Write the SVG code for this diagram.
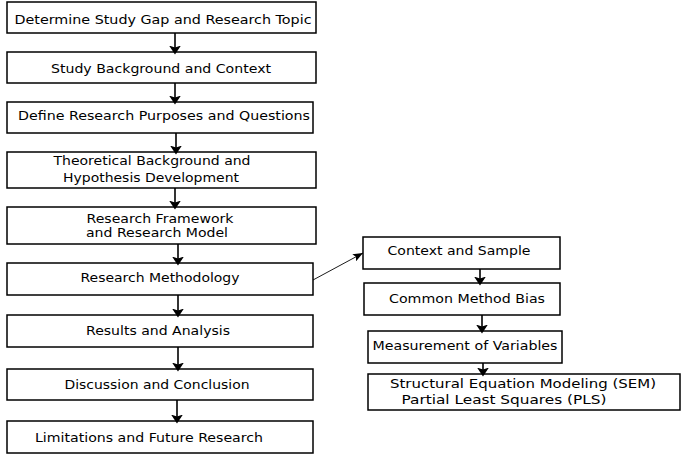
<svg xmlns="http://www.w3.org/2000/svg" width="685" height="456" viewBox="0 0 685 456">
<defs>
<marker id="ah" viewBox="0 0 9 12" refX="7.5" refY="6" markerWidth="9" markerHeight="12" markerUnits="userSpaceOnUse" orient="auto"><path d="M0,0 L9,6 L0,12 L2,6 Z" fill="#000"/></marker>
<marker id="ah2" viewBox="0 0 10 8" refX="10" refY="4" markerWidth="10" markerHeight="8" markerUnits="userSpaceOnUse" orient="auto"><path d="M0,0 L10,4 L0,8 L2,4 Z" fill="#000"/></marker>
</defs>
<style>
rect{fill:#fff;stroke:#000;stroke-width:1.5}
text{font-family:"DejaVu Sans",Verdana,sans-serif;font-size:12px;fill:#000;text-anchor:middle}
.c line{stroke:#000;stroke-width:1.6}
</style>
<rect x="0" y="0" width="685" height="456" style="stroke:none"/>
<g id="n1"><rect x="7" y="2" width="309" height="31"/><text x="163" y="24" textLength="297" lengthAdjust="spacingAndGlyphs">Determine Study Gap and Research Topic</text></g>
<g id="n2"><rect x="7" y="52" width="309" height="31"/><text x="161" y="73" textLength="220" lengthAdjust="spacingAndGlyphs">Study Background and Context</text></g>
<g id="n3"><rect x="7" y="102" width="306" height="31"/><text x="164" y="120" textLength="292" lengthAdjust="spacingAndGlyphs">Define Research Purposes and Questions</text></g>
<g id="n4"><rect x="7" y="152" width="309" height="36"/><text x="152" y="165" textLength="197" lengthAdjust="spacingAndGlyphs">Theoretical Background and</text><text x="151" y="182" textLength="176" lengthAdjust="spacingAndGlyphs">Hypothesis Development</text></g>
<g id="n5"><rect x="7" y="207" width="309" height="37"/><text x="160" y="223" textLength="147" lengthAdjust="spacingAndGlyphs">Research Framework</text><text x="157" y="237" textLength="142" lengthAdjust="spacingAndGlyphs">and Research Model</text></g>
<g id="n6"><rect x="7" y="263" width="306" height="32"/><text x="160" y="282" textLength="159" lengthAdjust="spacingAndGlyphs">Research Methodology</text></g>
<g id="n7"><rect x="7" y="315" width="306" height="32"/><text x="158" y="335" textLength="144" lengthAdjust="spacingAndGlyphs">Results and Analysis</text></g>
<g id="n8"><rect x="7" y="369" width="306" height="31"/><text x="157" y="389" textLength="185" lengthAdjust="spacingAndGlyphs">Discussion and Conclusion</text></g>
<g id="n9"><rect x="7" y="421" width="306" height="32"/><text x="149" y="442" textLength="228" lengthAdjust="spacingAndGlyphs">Limitations and Future Research</text></g>
<g id="r1"><rect x="363" y="237" width="197" height="32"/><text x="459" y="255" textLength="143" lengthAdjust="spacingAndGlyphs">Context and Sample</text></g>
<g id="r2"><rect x="364" y="283" width="196" height="32"/><text x="467" y="303" textLength="156" lengthAdjust="spacingAndGlyphs">Common Method Bias</text></g>
<g id="r3"><rect x="368" y="331" width="194" height="32"/><text x="465" y="350" textLength="185" lengthAdjust="spacingAndGlyphs">Measurement of Variables</text></g>
<g id="r4"><rect x="368" y="374" width="312" height="36"/><text x="523" y="388" textLength="266" lengthAdjust="spacingAndGlyphs">Structural Equation Modeling (SEM)</text><text x="504" y="404" textLength="205" lengthAdjust="spacingAndGlyphs">Partial Least Squares (PLS)</text></g>
<g class="c" id="connectors">
<line x1="175" y1="33" x2="175" y2="53" marker-end="url(#ah)"/>
<line x1="175" y1="83" x2="175" y2="103" marker-end="url(#ah)"/>
<line x1="176" y1="133" x2="176" y2="153" marker-end="url(#ah)"/>
<line x1="175" y1="188" x2="175" y2="208" marker-end="url(#ah)"/>
<line x1="178" y1="244" x2="178" y2="264" marker-end="url(#ah)"/>
<line x1="178" y1="295" x2="178" y2="316" marker-end="url(#ah)"/>
<line x1="178" y1="347" x2="178" y2="370" marker-end="url(#ah)"/>
<line x1="177" y1="400" x2="177" y2="422" marker-end="url(#ah)"/>
<line x1="480" y1="269" x2="480" y2="284" marker-end="url(#ah)"/>
<line x1="482" y1="315" x2="482" y2="332" marker-end="url(#ah)"/>
<line x1="483" y1="363" x2="483" y2="375" marker-end="url(#ah)"/>
<line x1="313" y1="280" x2="363" y2="253" style="stroke-width:0.9" marker-end="url(#ah2)"/>
</g>
</svg>
